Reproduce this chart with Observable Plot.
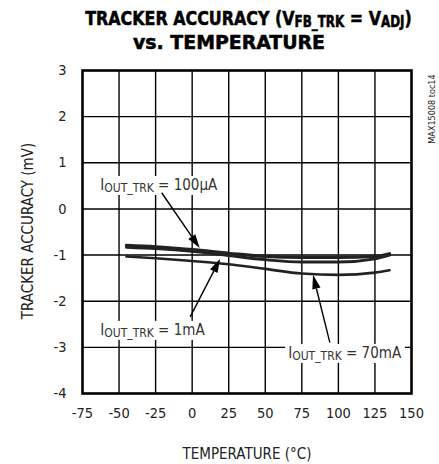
<!DOCTYPE html>
<html>
<head>
<meta charset="utf-8">
<script src="https://cdn.jsdelivr.net/npm/d3@7"></script>
<script src="https://cdn.jsdelivr.net/npm/@observablehq/plot@0.6"></script>
<style>
  html, body { margin: 0; padding: 0; background: white; }
</style>
</head>
<body>
<div id="chart"></div>
<script>
// ---- data ----
const temps = [-45, -25, 0, 25, 50, 75, 100, 125, 135];
const acc100uA = [-0.79, -0.82, -0.88, -0.96, -1.03, -1.05, -1.05, -1.03, -0.97];
const acc1mA   = [-0.83, -0.86, -0.92, -1.01, -1.10, -1.15, -1.15, -1.08, -1.00];
const acc70mA  = [-1.03, -1.07, -1.13, -1.20, -1.30, -1.40, -1.43, -1.38, -1.33];
const xTicks = [-75, -50, -25, 0, 25, 50, 75, 100, 125, 150];
const yTicks = [-4, -3, -2, -1, 0, 1, 2, 3];

// annotation labels
const annMain = ["I", "I", "I"];
const annSub = ["OUT_TRK", "OUT_TRK", "OUT_TRK"];
const annRest = [" = 100µA", " = 1mA", " = 70mA"];
const annLabelT = [-62.5, -62.5, 66];
const annLabelV = [0.40, -2.74, -3.24];
const annFromT = [-20.5, -1, 94.5];
const annFromV = [0.34, -2.35, -2.91];
const annToT = [5.5, 19.5, 83];
const annToV = [-0.86, -1.09, -1.44];

const FONT = "'DejaVu Sans Condensed', 'Liberation Sans Narrow', sans-serif";

const series = [];
temps.forEach((t, i) => {
  series.push({T: t, v: acc70mA[i], s: "70mA"});
  series.push({T: t, v: acc1mA[i], s: "1mA"});
  series.push({T: t, v: acc100uA[i], s: "100uA"});
});

const fmt = d => String(d);

const chart = Plot.plot({
  width: 439,
  height: 464,
  marginTop: 70,
  marginBottom: 71,
  marginLeft: 82,
  marginRight: 28,
  style: {fontFamily: FONT, fontSize: "14px", background: "white", color: "#222", overflow: "visible"},
  x: {domain: [-75, 150]},
  y: {domain: [-4, 3]},
  marks: [
    Plot.gridX(xTicks.slice(1, -1), {stroke: "black", strokeOpacity: 1, strokeWidth: 1.4}),
    Plot.gridY(yTicks.slice(1, -1), {stroke: "black", strokeOpacity: 1, strokeWidth: 1.4}),
    Plot.axisX(xTicks, {tickSize: 0, tickPadding: 14, label: null, fontSize: 14.5, tickFormat: fmt}),
    Plot.axisY(yTicks, {tickSize: 0, tickPadding: 16, label: null, fontSize: 14.5, tickFormat: fmt}),
    Plot.line(series.filter(d => d.s === "70mA"), {x: "T", y: "v", stroke: "#222", strokeWidth: 2.6, curve: "monotone-x"}),
    Plot.line(series.filter(d => d.s === "1mA"), {x: "T", y: "v", stroke: "#222", strokeWidth: 2.8, curve: "monotone-x"}),
    Plot.line(series.filter(d => d.s === "100uA"), {x: "T", y: "v", stroke: "#222", strokeWidth: 3.2, curve: "monotone-x"}),
    Plot.frame({stroke: "black", strokeWidth: 2.6})
  ]
});

document.getElementById("chart").appendChild(chart);
const svg = d3.select(chart);
const sx = chart.scale("x").apply;
const sy = chart.scale("y").apply;

// annotations
const annG = svg.append("g").attr("font-family", FONT).attr("text-anchor", "start");
annMain.forEach((m, i) => {
  const g = annG.append("g");
  const x0 = sx(annLabelT[i]), y0 = sy(annLabelV[i]);
  const txt = g.append("text").attr("x", x0).attr("y", y0).attr("font-size", 15).attr("fill", "#333");
  txt.append("tspan").text(m);
  txt.append("tspan").attr("font-size", 12).attr("dy", 2).text(annSub[i]);
  txt.append("tspan").attr("dy", -2).text(annRest[i]);
  const bb = txt.node().getBBox();
  g.insert("rect", "text").attr("x", bb.x - 3).attr("y", bb.y).attr("width", bb.width + 6).attr("height", bb.height).attr("fill", "white");
  // arrow
  const x1 = sx(annFromT[i]), y1 = sy(annFromV[i]);
  const x2 = sx(annToT[i]), y2 = sy(annToV[i]);
  const ang = Math.atan2(y2 - y1, x2 - x1);
  const L = 14, W = 4.2;
  const bx = x2 - L * Math.cos(ang), by = y2 - L * Math.sin(ang);
  annG.append("line").attr("x1", x1).attr("y1", y1).attr("x2", bx).attr("y2", by).attr("stroke", "black").attr("stroke-width", 1.4);
  const px = -Math.sin(ang), py = Math.cos(ang);
  annG.append("path")
    .attr("d", `M${x2},${y2}L${bx + W * px},${by + W * py}L${bx - W * px},${by - W * py}Z`)
    .attr("fill", "black");
});

// title, fitted to the reference widths by horizontal condensing
function fitText(sel, cx, cy, targetW) {
  const bb = sel.node().getBBox();
  const k = targetW / bb.width;
  sel.attr("x", 0).attr("y", 0).attr("text-anchor", "middle")
     .attr("transform", `translate(${cx},${cy}) scale(${k},1)`);
}
const t1 = svg.append("text").attr("text-anchor", "middle")
  .attr("font-family", FONT).attr("font-weight", "bold").attr("font-size", 20).attr("fill", "black")
  .attr("stroke", "black").attr("stroke-width", 0.5);
t1.append("tspan").text("TRACKER ACCURACY (V");
t1.append("tspan").attr("font-size", 15).attr("dy", 1.5).text("FB_TRK");
t1.append("tspan").attr("dy", -1.5).text(" = V");
t1.append("tspan").attr("font-size", 15).attr("dy", 1.5).text("ADJ");
t1.append("tspan").attr("dy", -1.5).text(")");
fitText(t1, 248.5, 25, 327);
const t2 = svg.append("text")
  .attr("font-family", FONT).attr("font-weight", "bold").attr("font-size", 20).attr("fill", "black")
  .attr("stroke", "black").attr("stroke-width", 0.5)
  .text("vs. TEMPERATURE");
fitText(t2, 229, 49, 192);

// axis labels
svg.append("text").attr("x", 247).attr("y", 459).attr("text-anchor", "middle")
  .attr("font-family", FONT).attr("font-size", 15).attr("fill", "#222").text("TEMPERATURE (°C)");
svg.append("text").attr("transform", "translate(33,231) rotate(-90)").attr("text-anchor", "middle")
  .attr("font-family", FONT).attr("font-size", 15).attr("fill", "#222").text("TRACKER ACCURACY (mV)");
svg.append("text").attr("transform", "translate(435,109) rotate(-90)").attr("text-anchor", "middle")
  .attr("font-family", FONT).attr("font-size", 9).attr("fill", "#222").text("MAX15008 toc14");
</script>
</body>
</html>
